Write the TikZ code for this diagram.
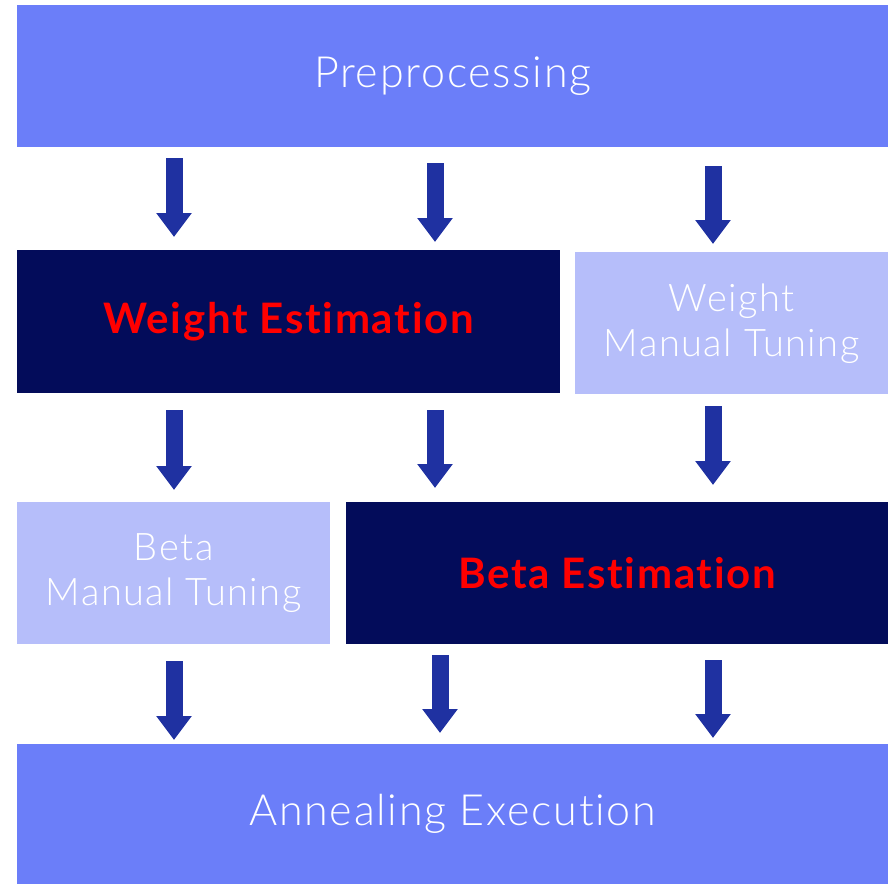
\documentclass[tikz,border=0pt]{standalone}
\usepackage{fontspec}
\setmainfont{Lato}[UprightFont={* Light},BoldFont={* Bold},LetterSpace=4,Ligatures=NoCommon]
\usetikzlibrary{arrows.meta,calc}
\definecolor{midblue}{HTML}{6B7EF9}
\definecolor{darknavy}{HTML}{030C5A}
\definecolor{lightblue}{HTML}{B6BEFA}
\definecolor{arrowblue}{HTML}{1F31A1}
\tikzset{
  box/.style={draw=none,anchor=north west,inner sep=0pt,align=center,text=white,font=\fontsize{43}{48}\selectfont},
  bigbox/.style={box,fill=midblue},
  darkbox/.style={box,fill=darknavy,text=red,font=\fontsize{42}{48}\selectfont\bfseries},
  lightbox/.style={box,fill=lightblue,font=\fontsize{38}{45}\selectfont},
  bigarr/.style={draw=arrowblue,line width=17pt,-{Triangle[width=34pt,length=24pt]}}
}
\begin{document}
\begin{tikzpicture}[x=1pt,y=-1pt]
\useasboundingbox (0,0) rectangle (892,884);
\node[bigbox,minimum width=871pt,minimum height=142pt] (pre) at (17,5) {Preprocessing};
\node[darkbox,minimum width=543pt,minimum height=143pt] (west) at (17,250) {Weight Estimation};
\node[lightbox,minimum width=313pt,minimum height=142pt] (wmt) at (575,252) {Weight\\Manual Tuning};
\node[lightbox,minimum width=313pt,minimum height=142pt] (bmt) at (17,502) {Beta\\Manual Tuning};
\node[darkbox,minimum width=542pt,minimum height=142pt] (best) at (346,502) {Beta Estimation};
\node[bigbox,minimum width=871pt,minimum height=140pt] (ann) at (17,744) {Annealing Execution};
% row 1
\coordinate (a1s) at (174,158); \coordinate (a1e) at (174,237);
\coordinate (a2s) at (435,163); \coordinate (a2e) at (435,242);
\coordinate (a3s) at (713,166); \coordinate (a3e) at (713,244);
\draw[bigarr] (a1s) -- (a1e);
\draw[bigarr] (a2s) -- (a2e);
\draw[bigarr] (a3s) -- (a3e);
% row 2
\coordinate (b1s) at (174,410); \coordinate (b1e) at (174,490);
\coordinate (b2s) at (435,410); \coordinate (b2e) at (435,488);
\coordinate (b3s) at (713,406); \coordinate (b3e) at (713,485);
\draw[bigarr] (b1s) -- (b1e);
\draw[bigarr] (b2s) -- (b2e);
\draw[bigarr] (b3s) -- (b3e);
% row 3
\coordinate (c1s) at (174,661); \coordinate (c1e) at (174,740);
\coordinate (c2s) at (440,655); \coordinate (c2e) at (440,733);
\coordinate (c3s) at (713,660); \coordinate (c3e) at (713,738);
\draw[bigarr] (c1s) -- (c1e);
\draw[bigarr] (c2s) -- (c2e);
\draw[bigarr] (c3s) -- (c3e);
\end{tikzpicture}
\end{document}
